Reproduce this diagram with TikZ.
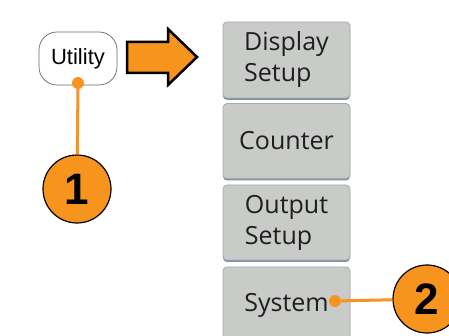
\documentclass[tikz,border=0pt]{standalone}
\usepackage{fontspec}
\setmainfont{Liberation Sans}
\newfontfamily\btnfont{Open Sans}
\usetikzlibrary{shadows}
\definecolor{org}{HTML}{F7941D}
\definecolor{btnfill}{HTML}{C9CBC8}
\definecolor{btnline}{HTML}{A9ABA9}
\definecolor{shadowc}{HTML}{8193A8}
\definecolor{txt}{HTML}{1E1E1E}
\begin{document}
\begin{tikzpicture}[x=1pt,y=-1pt,
  btn/.style={draw=btnline, line width=0.8pt, fill=btnfill, rounded corners=4pt,
    minimum width=127pt, inner sep=0pt, align=left, text=txt,
    font=\btnfont\fontsize{25}{31}\selectfont,
    general shadow={shadow yshift=-2pt, fill=shadowc}},
  callout/.style={circle, draw=black, line width=1.2pt, fill=org, minimum size=68pt,
    inner sep=0pt, font=\bfseries\fontsize{44}{44}\selectfont},
  dot/.style={circle, fill=org, minimum size=12pt, inner sep=0pt},
  lead/.style={draw=org, line width=3pt}]
\useasboundingbox (0,0) rectangle (449,336);
\fill[white] (0,0) rectangle (449,336);
% Utility button
\node[draw=black!60, line width=0.7pt, rounded corners=18pt, minimum width=78pt,
  minimum height=53pt, inner sep=0pt, font=\fontsize{22}{22}\selectfont] (util) at (78,58.5) {Utility};
% big arrow
\draw[fill=org, draw=black, line width=2.5pt, line join=miter]
  (127,42) -- (168,42) -- (168,29) -- (197,57) -- (168,85) -- (168,73) -- (127,73) -- cycle;
% menu buttons
\node[btn, minimum height=76pt] (b1) at (286.5,60) {Display\\Setup};
\node[btn, minimum height=75pt] (b2) at (286.5,141) {Counter};
\node[btn, minimum height=75pt] (b3) at (286.5,222.5) {Output\\Setup};
\node[btn, minimum height=76pt] (b4) at (286.5,305) {System};
% callouts
\node[callout] (c1) at (77,189) {1};
\node[callout] (c2) at (427,299) {2};
\node[dot] (d1) at (78,83) {};
\node[dot] (d2) at (335,301) {};
\draw[lead] (d1) -- (c1);
\draw[lead] (d2) -- (c2);
\end{tikzpicture}
\end{document}
